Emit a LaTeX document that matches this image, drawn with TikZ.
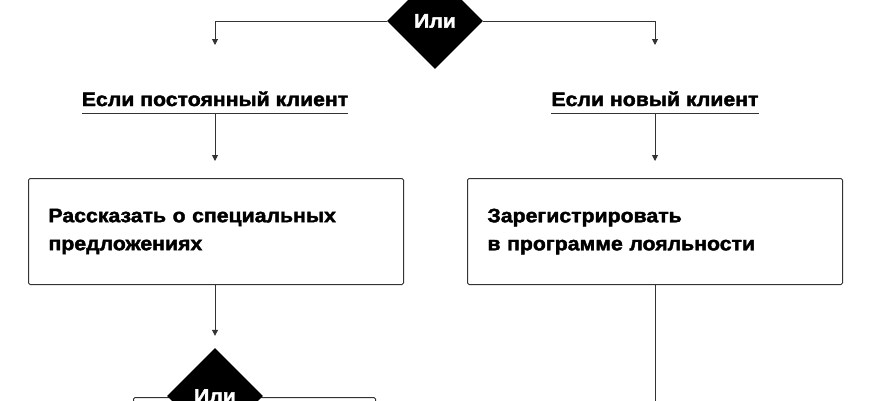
\documentclass[tikz,border=0pt]{standalone}
\usepackage{fontspec}
\setmainfont[BoldFeatures={FakeStretch=1.09,FakeBold=2}]{Liberation Sans}
\usetikzlibrary{shapes.geometric,arrows.meta}
\begin{document}
\begin{tikzpicture}[x=1pt,y=-1pt,
  lw/.style={line width=1pt, draw=black!80},
  arr/.style={lw,-{Triangle[width=6pt,length=6pt]}},
  txt/.style={font=\bfseries\fontsize{19.5}{28}\selectfont},
  stepbox/.style={lw, txt, rounded corners=1.5pt, minimum width=375pt, minimum height=106pt,
    text width=335pt, inner xsep=20pt, inner ysep=0pt, align=left, anchor=north west},
  plainbox/.style={lw, rounded corners=1.5pt, minimum width=242pt, minimum height=60pt, anchor=north west, inner sep=0pt},
  decision/.style={diamond, fill=black, text=white, txt, minimum width=96pt, minimum height=96pt, inner sep=0pt},
  cond/.style={txt, inner sep=0pt, anchor=base}
]
\useasboundingbox (0,0) rectangle (870,400);
\clip (0,0) rectangle (870,400);
\fill[white] (0,0) rectangle (870,400);

\node[decision] (d1) at (435,21) {Или};
\node[cond] (l1) at (215,106) {Если постоянный клиент};
\node[cond] (l2) at (655,106) {Если новый клиент};
\node[stepbox] (b1) at (28,178) {Рассказать о специальных\\предложениях};
\node[stepbox] (b2) at (467,178) {Зарегистрировать\\в программе лояльности};
\node[plainbox] (b3) at (133,397) {};
\node[decision] (d2) at (215,396) {Или};

\draw[lw] ([yshift=-7pt]l1.base west) -- ([yshift=-7pt]l1.base east);
\draw[lw] ([yshift=-7pt]l2.base west) -- ([yshift=-7pt]l2.base east);
\coordinate (u1) at ([yshift=-7pt]l1.base);
\coordinate (u2) at ([yshift=-7pt]l2.base);
\coordinate (t1) at (215,45);
\coordinate (t2) at (655,45);

\draw[arr] (d1.west) -| (t1);
\draw[arr] (d1.east) -| (t2);
\draw[arr, shorten >=17pt] (u1) -- (u1 |- b1.north);
\draw[arr, shorten >=17pt] (u2) -- (u2 |- b2.north);
\draw[arr, shorten >=12pt] (d2.north |- b1.south) -- (d2.north);
\draw[lw] (u2 |- b2.south) -- ++(0,130);
\end{tikzpicture}
\end{document}
